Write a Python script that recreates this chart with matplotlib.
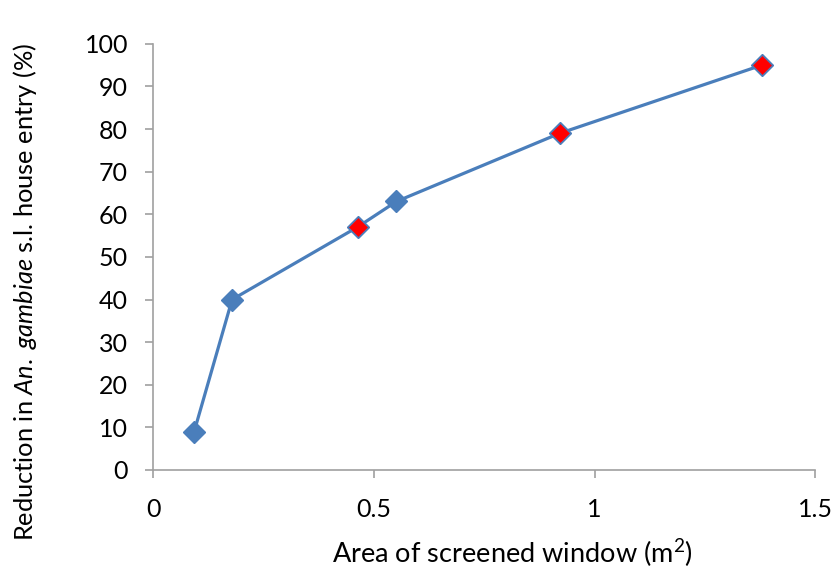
import matplotlib.pyplot as plt

# window area (m2) and reduction in house entry (%)
area = [0.093, 0.179, 0.463, 0.551, 0.921, 1.379]
reduction = [9, 40, 57, 63, 79, 95]
# points drawn with red fill
red_idx = [2, 4, 5]

x_ticks = [0, 0.5, 1, 1.5]
x_tick_labels = ['0', '0.5', '1', '1.5']
y_ticks = list(range(0, 101, 10))

plt.rcParams['font.family'] = ['Lato', 'DejaVu Sans']
plt.rcParams['mathtext.fontset'] = 'custom'
plt.rcParams['mathtext.rm'] = 'Lato'
plt.rcParams['mathtext.it'] = 'Lato:italic'

fig = plt.figure(figsize=(8.32, 5.69), dpi=100)
ax = fig.add_axes([0.184, 0.174, 0.796, 0.749])

blue = '#4a7ebb'
ax.plot(area, reduction, color=blue, lw=2.3, marker='D', ms=11.5,
        mfc=blue, mec=blue, zorder=2)
ax.plot([area[i] for i in red_idx], [reduction[i] for i in red_idx],
        ls='none', marker='D', ms=10.5, mfc='red', mec=blue, mew=0.6, zorder=3)

ax.set_xlim(0, 1.5)
ax.set_ylim(0, 100)
ax.set_xticks(x_ticks)
ax.set_xticklabels(x_tick_labels)
ax.set_yticks(y_ticks)

for side in ['top', 'right']:
    ax.spines[side].set_visible(False)
for side in ['left', 'bottom']:
    ax.spines[side].set_color('#a0a0a0')
    ax.spines[side].set_linewidth(1.2)
ax.tick_params(axis='both', colors='#a0a0a0', length=6, width=1.2,
               labelsize=18, labelcolor='black')
ax.tick_params(axis='x', pad=14)
ax.tick_params(axis='y', pad=12)

ax.set_xlabel('Area of screened window (m$^2$)', fontsize=19.5, labelpad=12)
ax.xaxis.label.set_x(0.542)
ax.set_ylabel('Reduction in $\\it{An.}$ $\\it{gambiae}$ s.l. house entry (%)',
              fontsize=18.3)
ax.yaxis.set_label_coords(-0.172, 0.418)

fig.savefig('out.png', dpi=100)
